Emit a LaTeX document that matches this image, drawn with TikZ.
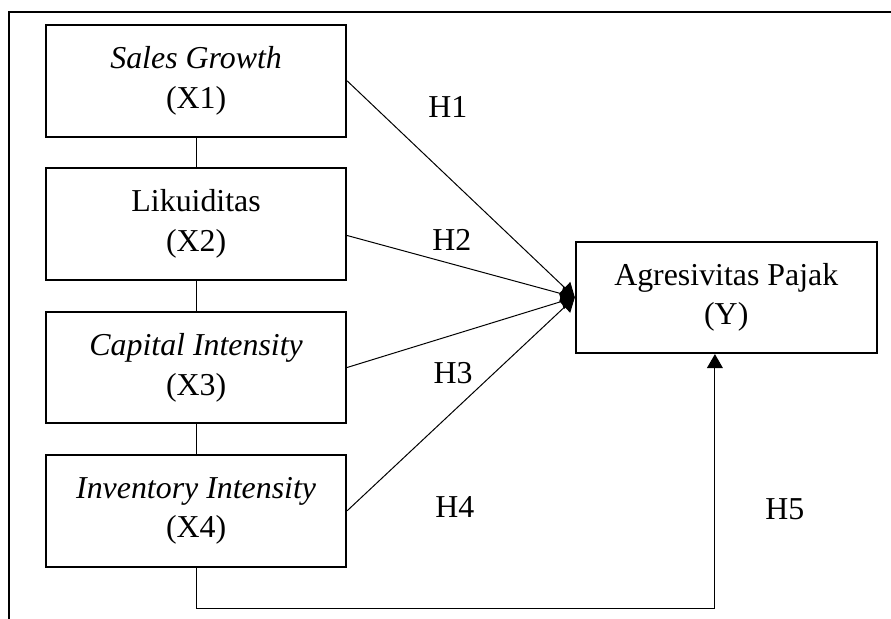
\documentclass[tikz,border=0pt]{standalone}
\usepackage{fontspec}
\setmainfont{Liberation Serif}
\usepackage{tikz}
\usetikzlibrary{calc}
\usetikzlibrary{positioning}
\usetikzlibrary{arrows.meta}

\begin{document}
\begin{tikzpicture}[
		scale=1,
		every node/.append style={scale=1},
		var_box/.style={
			draw=black,
			line width=1.5pt,
			fill=white,
			rectangle,
			minimum width=7.94cm,
			minimum height=2.95cm,
			align=center,
			font=\fontsize{24}{30}\selectfont,
			node distance=0.79cm},
		hyp/.style={
			font=\fontsize{24}{30}\selectfont},
		link/.style={
			draw=black,
			line width=0.75pt},
		effect/.style={
			link,
			-{Triangle[length=0.37cm,width=0.42cm]}},
		]

		\useasboundingbox (0,0) rectangle (23.58,-16.38);

		%Frame
		\draw[line width=1.5pt] (23.58,-0.32) -- (0.24,-0.32) -- (0.24,-16.38);

		%Independent variables
		\node (x1)[var_box] at (5.19,-2.14) {\textit{Sales Growth}\\(X1)};
		\node (x2)[var_box, below = of x1] {Likuiditas\\(X2)};
		\node (x3)[var_box, below = of x2] {\textit{Capital Intensity}\\(X3)};
		\node (x4)[var_box, below = of x3] {\textit{Inventory Intensity}\\(X4)};
		\foreach \upper/\lower in {x1/x2, x2/x3, x3/x4}{
			\draw[link] (\upper.south) -- (\lower.north);
		}

		%Agresivitas Pajak
		\node (y)[var_box, minimum width=7.96cm] at (19.22,-7.87) {Agresivitas Pajak\\(Y)};

		%Hypotheses
		\draw[effect] (x1.east) -- (y.west);
		\draw[effect] ($(x2.east)+(0,-0.3)$) -- (y.west);
		\draw[effect] (x3.east) -- (y.west);
		\draw[effect] (x4.east) -- (y.west);
		\coordinate (h5in) at ($(y.south)+(-0.3,0)$);
		\draw[effect] (x4.south) -- ++(0,-1.09) -| (h5in);

		\foreach \hname/\x/\y in {H1/11.85/-2.83, H2/11.96/-6.35, H3/11.99/-9.87, H4/12.04/-13.42, H5/20.77/-13.47}{
			\node (\hname)[hyp] at (\x,\y) {\hname};
		}

	\end{tikzpicture}
\end{document}
